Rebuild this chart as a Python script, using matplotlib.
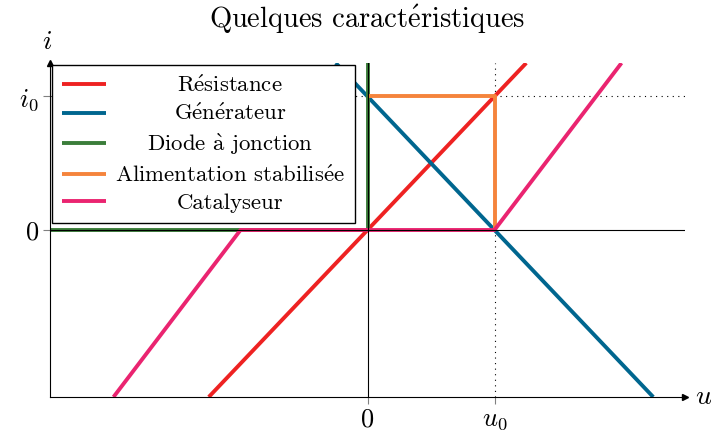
import numpy as np
import matplotlib
matplotlib.use("Agg")
from matplotlib import pyplot as plt

plt.rcParams['font.family'] = ['cmr10', 'DejaVu Serif']
plt.rcParams['mathtext.fontset'] = 'cm'
plt.rcParams['axes.unicode_minus'] = False

# caracteristiques (u, i), u0 = i0 = 1
res_u = [-1.25, 1.25]
res_i = [-1.25, 1.25]
gen_u = [-0.25, 2.25]
gen_i = [1.25, -1.25]
diode_u = [-2.5, 0, 0]
diode_i = [0, 0, 1.25]
alim_u = [0, 1, 1]
alim_i = [1, 1, 0]
cata_u = [-2, -1, 1, 2]
cata_i = [-1.25, 0, 0, 1.25]

# accents en mathtext (cmr10 n'a pas de é / à)
labels = [r'R$\acute{\mathrm{e}}$sistance', r'G$\acute{\mathrm{e}}$n$\acute{\mathrm{e}}$rateur',
          r'Diode $\grave{\mathrm{a}}$ jonction', r'Alimentation stabilis$\acute{\mathrm{e}}$e',
          'Catalyseur']
colors = ['#ee2222', '#00668f', '#3b7d3a', '#f5843c', '#ea2470']
title = r'Quelques caract$\acute{\mathrm{e}}$ristiques'

xticks = [0, 1]
xtick_labels = ['$0$', '$u_0$']
yticks = [0, 1]
ytick_labels = ['$0$', '$i_0$']

fig = plt.figure(figsize=(7.11, 4.34), dpi=100)
ax = fig.add_axes([50 / 711, 1 - 397 / 434, 635 / 711, 334 / 434])
ax.set_xlim(-2.5, 2.5)
ax.set_ylim(-1.25, 1.25)

# repere
ax.axhline(0, color='black', lw=0.8, zorder=5)
ax.axvline(0, color='black', lw=0.8, zorder=5)
ax.axhline(1, color='black', lw=0.8, ls=(0, (1, 4)), zorder=1)
ax.axvline(1, color='black', lw=0.8, ls=(0, (1, 4)), zorder=1)

lw = 2.8
curves = [(res_u, res_i), (gen_u, gen_i), (diode_u, diode_i),
          (alim_u, alim_i), (cata_u, cata_i)]
for (u, i), lab, c in zip(curves, labels, colors):
    ax.plot(u, i, color=c, lw=lw, label=lab, solid_capstyle='butt')

ax.spines['top'].set_visible(False)
ax.spines['right'].set_visible(False)
ax.plot(1, 0, '>k', ms=5, transform=ax.transAxes, clip_on=False)
ax.plot(0, 1, '^k', ms=5, transform=ax.transAxes, clip_on=False)
ax.text(1.015, 0, '$u$', transform=ax.transAxes, fontsize=20, va='center')
ax.text(-0.005, 1.025, '$i$', transform=ax.transAxes, fontsize=20, ha='center', va='bottom')

ax.set_xticks(xticks, xtick_labels, fontsize=19)
ax.set_yticks(yticks, ytick_labels, fontsize=19)
ax.tick_params(axis='x', length=5, color='gray', pad=3)
ax.tick_params(axis='y', length=5, color='gray', pad=3)

ax.set_title(title, fontsize=20.5, pad=25)

leg = ax.legend(loc='upper left', fontsize=16.4, fancybox=False, edgecolor='black',
                framealpha=1, borderaxespad=0.1, handlelength=1.95,
                handletextpad=0.4, labelspacing=0.33, borderpad=0.42)
leg.get_frame().set_linewidth(1.0)

# centrer les libelles dans la legende
fig.canvas.draw()
texts = leg.get_texts()
widths = [t.get_window_extent().width for t in texts]
wmax = max(widths)
for t, w in zip(texts, widths):
    t.set_position(((wmax - w) / 2, 0))

fig.savefig('out.png', dpi=100)
